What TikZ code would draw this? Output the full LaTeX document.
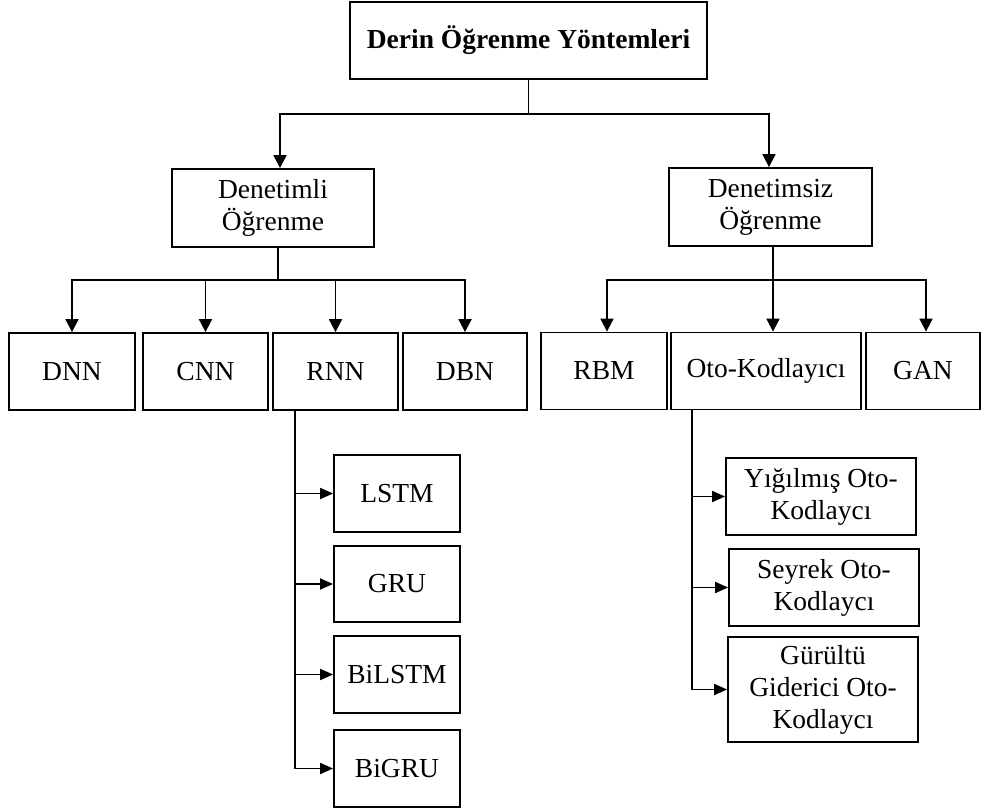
\documentclass[tikz,border=0pt]{standalone}
\usepackage{fontspec}
\setmainfont{Liberation Serif}
\usetikzlibrary{arrows.meta}
\begin{document}
\begin{tikzpicture}[x=1pt,y=-1pt,
  box/.style={draw, line width=1.8pt, inner sep=0pt, align=center,
              font=\fontsize{27.5}{32}\selectfont},
  link/.style={line width=1.8pt},
  arr/.style={link, -{Triangle[length=13pt,width=13pt]}},
  sarr/.style={link, -{Triangle[length=13pt,width=11pt]}}]
\useasboundingbox (0,0) rectangle (987,810);

% root
\node[box, minimum width=357pt, minimum height=77pt,
      font=\fontsize{27.5}{32}\selectfont\bfseries] (root) at (528.5,40.5) {Derin Öğrenme Yöntemleri};

% learning paradigms
\node[box, minimum width=202pt, minimum height=78pt] (sup) at (273,208) {Denetimli\\Öğrenme};
\node[box, minimum width=203pt, minimum height=78pt] (uns) at (770.5,207) {Denetimsiz\\Öğrenme};

% supervised models
\node[box, minimum width=126pt, minimum height=77pt] (dnn) at (72,371.5) {DNN};
\node[box, minimum width=125pt, minimum height=77pt] (cnn) at (205.5,371.5) {CNN};
\node[box, minimum width=125pt, minimum height=77pt] (rnn) at (335.5,371.5) {RNN};
\node[box, minimum width=124pt, minimum height=77pt] (dbn) at (465,371.5) {DBN};

% unsupervised models
\node[box, minimum width=126pt, minimum height=77pt] (rbm) at (604,371) {RBM};
\node[box, minimum width=190pt, minimum height=77pt] (oto) at (766,371) {Oto-Kodlayıcı};
\node[box, minimum width=114pt, minimum height=77pt] (gan) at (923,371) {GAN};

% RNN variants
\node[box, minimum width=126pt, minimum height=77pt] (lstm) at (397,493.5) {LSTM};
\node[box, minimum width=126pt, minimum height=76pt] (gru) at (397,584) {GRU};
\node[box, minimum width=126pt, minimum height=77pt] (bilstm) at (397,674.5) {BiLSTM};
\node[box, minimum width=126pt, minimum height=77pt] (bigru) at (397,768.5) {BiGRU};

% autoencoder variants
\node[box, minimum width=190pt, minimum height=77pt] (yig) at (821,496.5) {Yığılmış Oto-\\Kodlaycı};
\node[box, minimum width=190pt, minimum height=77pt] (sey) at (824,587.5) {Seyrek Oto-\\Kodlaycı};
\node[box, minimum width=190pt, minimum height=105pt] (gur) at (823,689.5) {Gürültü\\Giderici Oto-\\Kodlaycı};

% root -> paradigms
\draw[link] (root.south) -- ++(0,34) coordinate (jt);
\draw[arr] (jt) -| ([xshift=7pt]sup.north);
\draw[arr] (jt) -| ([xshift=-1.5pt]uns.north);

% supervised branch
\draw[link] ([xshift=5pt]sup.south) -- ++(0,32) coordinate (jl);
\draw[arr] (jl) -| (dnn.north);
\draw[arr] (jl) -| (cnn.north);
\draw[arr] (jl) -| (rnn.north);
\draw[arr] (jl) -| (dbn.north);

% unsupervised branch
\draw[link] ([xshift=2.5pt]uns.south) -- ++(0,33) coordinate (jr);
\draw[arr] (jr) -| ([xshift=3pt]rbm.north);
\draw[arr] (jr) -- (jr |- oto.north);
\draw[arr] (jr) -| ([xshift=3pt]gan.north);

% RNN -> variants
\coordinate (rv) at ([xshift=-40.5pt]rnn.south);
\draw[sarr] (rv) |- (bigru.west);
\draw[sarr] (rv |- lstm.west) -- (lstm.west);
\draw[sarr] (rv |- gru.west) -- (gru.west);
\draw[sarr] (rv |- bilstm.west) -- (bilstm.west);

% autoencoder -> variants
\coordinate (ov) at ([xshift=-74pt]oto.south);
\draw[sarr] (ov) |- (gur.west);
\draw[sarr] (ov |- yig.west) -- (yig.west);
\draw[sarr] (ov |- sey.west) -- (sey.west);
\end{tikzpicture}
\end{document}
